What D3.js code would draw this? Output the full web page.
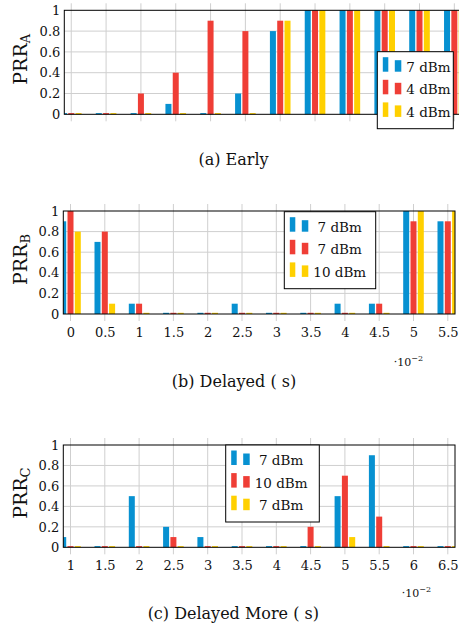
<!DOCTYPE html>
<html>
<head>
<meta charset="utf-8">
<script src="https://cdn.jsdelivr.net/npm/d3@7"></script>
<style>
  body { margin: 0; background: #fff; }
  svg text { font-family: "DejaVu Serif", serif; fill: #111; }
</style>
</head>
<body>
<svg id="chart" width="459" height="638"></svg>
<script>
// ---- data ----
const xEarly   = [0, 0.5, 1, 1.5, 2, 2.5, 3, 3.5, 4, 4.5, 5, 5.5];
const xDelayed = [0, 0.5, 1, 1.5, 2, 2.5, 3, 3.5, 4, 4.5, 5, 5.5];
const xMore    = [1, 1.5, 2, 2.5, 3, 3.5, 4, 4.5, 5, 5.5, 6, 6.5];

const xLabelsDelayed = ["0", "0.5", "1", "1.5", "2", "2.5", "3", "3.5", "4", "4.5", "5", "5.5"];
const xLabelsMore    = ["1", "1.5", "2", "2.5", "3", "3.5", "4", "4.5", "5", "5.5", "6", "6.5"];

const yTicks      = [0, 0.2, 0.4, 0.6, 0.8, 1];
const yTickLabels = ["0", "0.2", "0.4", "0.6", "0.8", "1"];

const earlyBlue   = [0, 0, 0, 0.1, 0, 0.2, 0.8, 1, 1, 1, 1, 1];
const earlyRed    = [0, 0, 0.2, 0.4, 0.9, 0.8, 0.9, 1, 1, 1, 1, 1];
const earlyYellow = [0, 0, 0, 0, 0, 0, 0.9, 1, 1, 1, 1, 1];

const delayedBlue   = [0.9, 0.7, 0.1, 0, 0, 0.1, 0, 0, 0.1, 0.1, 1, 0.9];
const delayedRed    = [1, 0.8, 0.1, 0, 0, 0, 0, 0, 0, 0.1, 0.9, 0.9];
const delayedYellow = [0.8, 0.1, 0, 0, 0, 0, 0, 0, 0, 0, 1, 1];

const moreBlue   = [0.1, 0, 0.5, 0.2, 0.1, 0, 0, 0, 0.5, 0.9, 0, 0];
const moreRed    = [0, 0, 0, 0.1, 0, 0, 0, 0.2, 0.7, 0.3, 0, 0];
const moreYellow = [0, 0, 0, 0, 0, 0, 0, 0, 0.1, 0, 0, 0];

const legendEarly   = ["7 dBm", "4 dBm", "4 dBm"];
const legendDelayed = ["7 dBm", "7 dBm", "10 dBm"];
const legendMore    = ["7 dBm", "10 dBm", "7 dBm"];

const colors = ["#0791d1", "#ef3e36", "#ffd000"];
const gridColor = "#cfcfcf";
const barW = 6, barOff = [-7.3, 0, 7.3];

const svg = d3.select("#chart");

function drawPanel(p) {
  const g = svg.append("g");
  const x = d3.scaleLinear().domain(p.xDomain).range([p.left, p.right]);
  const y = d3.scaleLinear().domain([0, 1]).range([p.bottom, p.top]);

  svg.append("clipPath").attr("id", "clip" + p.id)
    .append("rect")
    .attr("x", p.left).attr("y", p.top - 1)
    .attr("width", p.right - p.left).attr("height", p.bottom - p.top + 2);

  // grid
  g.append("g").selectAll("line").data(yTicks.slice(1, -1)).join("line")
    .attr("x1", p.left).attr("x2", p.right)
    .attr("y1", d => y(d)).attr("y2", d => y(d))
    .attr("stroke", gridColor);
  g.append("g").selectAll("line").data(p.xs).join("line")
    .attr("x1", d => x(d)).attr("x2", d => x(d))
    .attr("y1", p.top - 7).attr("y2", p.bottom + 7)
    .attr("stroke", gridColor);

  // bars
  const bars = g.append("g").attr("clip-path", `url(#clip${p.id})`);
  p.series.forEach((vals, si) => {
    bars.append("g").selectAll("rect").data(vals).join("rect")
      .attr("x", (d, i) => x(p.xs[i]) + barOff[si] - barW / 2)
      .attr("width", barW)
      .attr("y", d => Math.min(y(d), p.bottom - 1.2))
      .attr("height", d => Math.max(p.bottom - y(d), 1.2))
      .attr("fill", colors[si]);
  });

  // frame
  g.append("rect")
    .attr("x", p.left).attr("y", p.top)
    .attr("width", p.right - p.left).attr("height", p.bottom - p.top)
    .attr("fill", "none").attr("stroke", "#000").attr("stroke-width", 1);

  // y axis labels
  const ya = g.append("g").attr("transform", `translate(${p.left - 4},0)`)
    .call(d3.axisLeft(y).tickValues(yTicks).tickFormat((d, i) => yTickLabels[i]).tickSize(0).tickPadding(0));
  ya.select(".domain").remove();
  ya.attr("font-family", "DejaVu Serif").attr("font-size", 13);

  // x axis labels
  if (p.xLabels) {
    const xa = g.append("g").attr("transform", `translate(0,${p.bottom})`)
      .call(d3.axisBottom(x).tickValues(p.xs).tickFormat((d, i) => p.xLabels[i]).tickSize(0));
    xa.select(".domain").remove();
    xa.attr("font-family", "DejaVu Serif").attr("font-size", 13);
    xa.selectAll("text").attr("y", 23).attr("dy", 0);

    const ex = g.append("text").attr("x", p.expX).attr("y", p.expY)
      .attr("text-anchor", "end").attr("font-size", 11);
    ex.append("tspan").text("·10");
    ex.append("tspan").attr("font-size", 8).attr("dy", -5).text("−2");
  }

  // y label
  const cy = (p.top + p.bottom) / 2 - 3;
  const yl = g.append("text")
    .attr("transform", `translate(26.5,${cy}) rotate(-90)`)
    .attr("text-anchor", "middle").attr("font-size", 19);
  yl.append("tspan").text("PRR");
  yl.append("tspan").attr("font-size", 13).attr("dy", 3).text(p.sub);

  // legend
  const L = p.legend;
  const lg = g.append("g");
  lg.append("rect").attr("x", L.x).attr("y", L.y).attr("width", L.w).attr("height", 77)
    .attr("fill", "#fff").attr("stroke", "#000");
  const texts = p.legendText.map((t, i) => {
    const base = L.y + 20 + i * 22.6;
    lg.append("rect").attr("x", L.x + 5.5).attr("y", base - 14.5).attr("width", 5.5).attr("height", 14.5).attr("fill", colors[i]);
    lg.append("rect").attr("x", L.x + 17.5).attr("y", base - 11.5).attr("width", 6.5).attr("height", 11.5).attr("fill", colors[i]);
    return lg.append("text").attr("y", base).attr("font-size", 13.5).attr("text-anchor", "middle").text(t);
  });
  const maxW = d3.max(texts, t => t.node().getComputedTextLength());
  texts.forEach(t => t.attr("x", L.x + 29 + maxW / 2));

  // caption
  g.append("text").attr("x", p.capX).attr("y", p.capY)
    .attr("text-anchor", "middle").attr("font-size", 16).text(p.caption);
}

drawPanel({
  id: "a", xs: xEarly, xDomain: [-0.1, 5.61], left: 64.3, right: 462, top: 10.3, bottom: 114.3,
  series: [earlyBlue, earlyRed, earlyYellow], legendText: legendEarly,
  legend: { x: 377.3, y: 51.7, w: 76 }, sub: "A",
  caption: "(a) Early", capX: 233.5, capY: 165
});

drawPanel({
  id: "b", xs: xDelayed, xDomain: [-0.105, 5.605], left: 63.3, right: 455, top: 211, bottom: 314,
  series: [delayedBlue, delayedRed, delayedYellow], legendText: legendDelayed, xLabels: xLabelsDelayed,
  expX: 423, expY: 366,
  legend: { x: 284.3, y: 211.7, w: 91.4 }, sub: "B",
  caption: "(b) Delayed ( s)", capX: 234, capY: 387
});

drawPanel({
  id: "c", xs: xMore, xDomain: [0.895, 6.605], left: 63.3, right: 455, top: 445, bottom: 547.3,
  series: [moreBlue, moreRed, moreYellow], legendText: legendMore, xLabels: xLabelsMore,
  expX: 431, expY: 597,
  legend: { x: 225.7, y: 445, w: 93.6 }, sub: "C",
  caption: "(c) Delayed More ( s)", capX: 233.3, capY: 619
});
</script>
</body>
</html>
